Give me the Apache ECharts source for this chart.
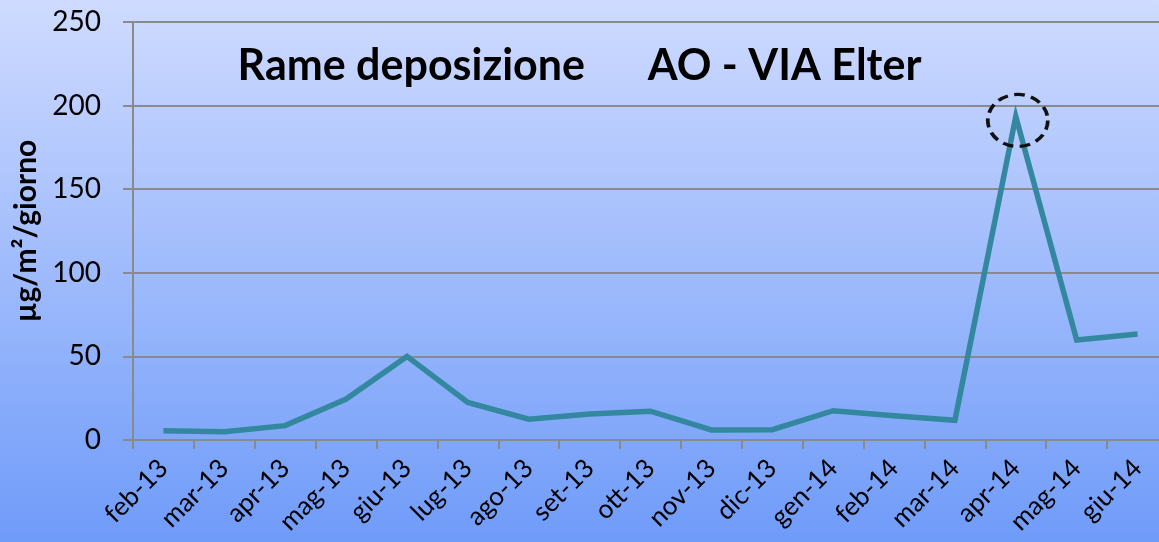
<!DOCTYPE html>
<html>
<head>
<meta charset="utf-8">
<script src="https://cdn.jsdelivr.net/npm/echarts@6/dist/echarts.min.js"></script>
<style>
html,body{margin:0;padding:0;width:1159px;height:542px;overflow:hidden;}
#chart{width:1159px;height:542px;}
</style>
</head>
<body>
<div id="chart"></div>
<script>
const categories = ['feb-13','mar-13','apr-13','mag-13','giu-13','lug-13','ago-13','set-13','ott-13','nov-13','dic-13','gen-14','feb-14','mar-14','apr-14','mag-14','giu-14'];
const values = [5.5, 5, 8.6, 24.5, 50, 22.5, 12.4, 15.5, 17.2, 6, 6.2, 17.5, 14.5, 11.8, 193.5, 59.8, 63.4];
const yTicks = [0, 50, 100, 150, 200, 250];
const highlighted = { cat: 'apr-14', value: 193.5 };
const titleText = 'Rame deposizione      AO - VIA Elter';
const yName = 'µg/m²/giorno';

const font = 'Lato, "Open Sans", sans-serif';
const chart = echarts.init(document.getElementById('chart'));
chart.setOption({
  animation: false,
  backgroundColor: new echarts.graphic.LinearGradient(0, 0, 0, 1, [
    { offset: 0, color: '#cfdbff' },
    { offset: 1, color: '#6f9bf9' }
  ]),
  title: {
    text: titleText,
    left: 'center',
    top: 40,
    textStyle: { fontFamily: font, fontWeight: 'bold', fontSize: 43, color: '#000' }
  },
  grid: { left: 133, top: 22, bottom: 102, right: -9, containLabel: false, outerBoundsMode: 'none' },
  xAxis: {
    type: 'category',
    data: categories,
    boundaryGap: true,
    axisLine: { lineStyle: { color: '#8a8a8a', width: 2 } },
    axisTick: { show: true, length: 9, lineStyle: { color: '#8a8a8a', width: 2 } },
    axisLabel: { rotate: 45, margin: 24, fontFamily: font, fontSize: 26, color: '#000', interval: 0 }
  },
  yAxis: {
    type: 'value',
    min: 0, max: 250, interval: 50,
    name: yName,
    nameLocation: 'middle',
    nameGap: 86,
    nameTextStyle: { fontFamily: font, fontWeight: 'bold', fontSize: 30, color: '#000' },
    axisLine: { show: true, lineStyle: { color: '#8a8a8a', width: 2 } },
    axisTick: { show: true, length: 10, lineStyle: { color: '#8a8a8a', width: 2 } },
    axisLabel: {
      margin: 32, fontFamily: font, fontSize: 28, color: '#000',
      formatter: v => yTicks.includes(v) ? String(v) : ''
    },
    splitLine: { show: true, lineStyle: { color: '#8a8a8a', width: 2 } }
  },
  series: [{
    type: 'line',
    data: values,
    symbol: 'none',
    lineStyle: { color: '#33889f', width: 5.5, join: 'miter' },
    markPoint: {
      symbol: 'circle',
      symbolSize: [60, 52],
      symbolOffset: [2, 4],
      label: { show: false },
      itemStyle: { color: 'rgba(0,0,0,0)', borderColor: '#111', borderWidth: 3.5, borderType: [10, 6] },
      data: [{ coord: [highlighted.cat, highlighted.value] }]
    }
  }]
});
</script>
</body>
</html>
